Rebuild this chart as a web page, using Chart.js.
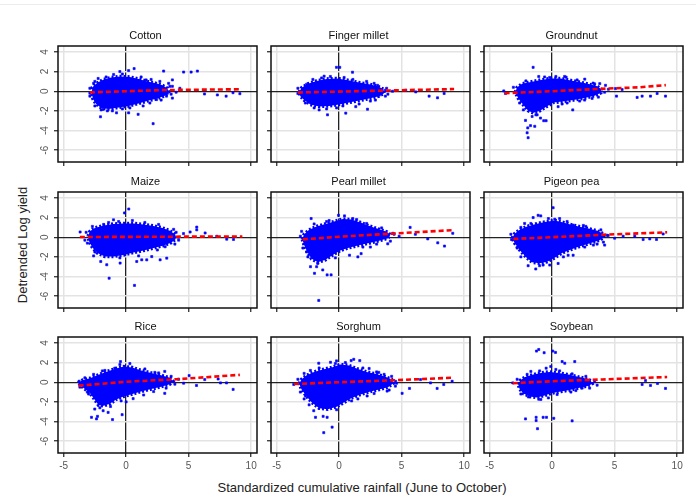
<!DOCTYPE html>
<html>
<head>
<meta charset="utf-8">
<script src="https://cdn.jsdelivr.net/npm/chart.js@4.4.1/dist/chart.umd.min.js"></script>
<style>
  body { margin: 0; background: #fff; width: 696px; height: 500px; position: relative; overflow: hidden;
         font-family: "Liberation Sans", Arial, sans-serif; }
  .panel { position: absolute; }
  #topline { position: absolute; left: 0; top: 4px; width: 696px; height: 1px; background: #ececec; }
  #ylab { position: absolute; left: 22px; top: 245px; transform: translate(-50%, -50%) rotate(-90deg);
          font-size: 13px; color: #222; white-space: nowrap; }
  #xlab { position: absolute; left: 362px; top: 487px; transform: translate(-50%, -50%);
          font-size: 13px; color: #222; white-space: nowrap; }
</style>
</head>
<body>
<div id="topline"></div>
<div id="ylab">Detrended Log yield</div>
<div id="xlab">Standardized cumulative rainfall (June to October)</div>
<script>
const crops = ['Cotton', 'Finger millet', 'Groundnut', 'Maize', 'Pearl millet', 'Pigeon pea', 'Rice', 'Sorghum', 'Soybean'];
const xTicks = [-5, 0, 5, 10];
const yTicks = [-6, -4, -2, 0, 2, 4];

// outline of the dense cloud of district-years, per crop
const coreOutlines = [
  [[-2.75,-0.2],[-2.7,0.4],[-2.3,0.85],[-1.8,1.2],[-1.2,1.4],[-0.5,1.5],[0.3,1.45],[1.0,1.25],[1.7,1.0],[2.4,0.8],[2.9,0.6],[3.3,0.3],[3.4,-0.1],[3.1,-0.45],[2.5,-0.75],[1.8,-0.95],[1.0,-1.25],[0.2,-1.5],[-0.6,-1.65],[-1.4,-1.8],[-2.0,-1.7],[-2.4,-1.3],[-2.65,-0.8],[-2.75,-0.2]],
  [[-3.2,-0.1],[-3.0,0.35],[-2.5,0.75],[-1.8,1.05],[-1.0,1.25],[-0.2,1.3],[0.6,1.15],[1.5,0.9],[2.4,0.7],[3.1,0.5],[3.55,0.2],[3.6,-0.2],[3.2,-0.5],[2.4,-0.75],[1.6,-0.95],[0.8,-1.15],[0,-1.35],[-0.8,-1.5],[-1.6,-1.55],[-2.3,-1.35],[-2.8,-0.9],[-3.1,-0.5],[-3.2,-0.1]],
  [[-2.95,-0.1],[-2.8,0.4],[-2.4,0.75],[-1.7,0.95],[-0.9,1.15],[-0.1,1.3],[0.7,1.3],[1.5,1.1],[2.3,0.9],[3.0,0.7],[3.6,0.5],[3.95,0.2],[3.9,-0.15],[3.4,-0.45],[2.6,-0.7],[1.7,-0.9],[0.8,-1.05],[0.1,-1.15],[-0.5,-1.6],[-1.0,-2.0],[-1.5,-2.2],[-1.9,-2.0],[-2.3,-1.4],[-2.7,-0.75],[-2.95,-0.1]],
  [[-3.05,0.1],[-2.9,0.6],[-2.5,0.95],[-1.8,1.2],[-1.0,1.35],[-0.2,1.4],[0.6,1.4],[1.4,1.3],[2.2,1.15],[2.9,0.95],[3.5,0.65],[3.95,0.25],[3.95,-0.2],[3.6,-0.55],[3.0,-0.85],[2.2,-1.1],[1.4,-1.35],[0.6,-1.55],[-0.2,-1.8],[-1.0,-1.95],[-1.7,-1.95],[-2.3,-1.6],[-2.7,-1.05],[-2.95,-0.45],[-3.05,0.1]],
  [[-2.95,-0.2],[-2.8,0.3],[-2.4,0.75],[-1.8,1.1],[-1.1,1.35],[-0.4,1.6],[0.3,1.85],[1.0,1.8],[1.7,1.5],[2.4,1.15],[3.1,0.85],[3.8,0.55],[4.1,0.25],[3.9,-0.1],[3.2,-0.35],[2.4,-0.6],[1.5,-0.85],[0.7,-1.1],[0.1,-1.35],[-0.5,-1.8],[-1.1,-2.3],[-1.7,-2.55],[-2.2,-2.2],[-2.55,-1.5],[-2.8,-0.8],[-2.95,-0.2]],
  [[-3.2,-0.1],[-3.0,0.35],[-2.6,0.75],[-2.0,1.1],[-1.3,1.35],[-0.6,1.55],[0.2,1.7],[0.9,1.5],[1.6,1.25],[2.3,1.05],[3.0,0.85],[3.6,0.65],[4.1,0.35],[4.15,0],[3.8,-0.3],[3.1,-0.6],[2.3,-0.9],[1.5,-1.25],[0.8,-1.6],[0.2,-2.1],[-0.4,-2.5],[-1.0,-2.65],[-1.6,-2.55],[-2.1,-2.0],[-2.6,-1.3],[-3.0,-0.6],[-3.2,-0.1]],
  [[-3.85,-0.05],[-3.5,0.2],[-2.9,0.4],[-2.2,0.75],[-1.5,1.1],[-0.8,1.4],[-0.2,1.6],[0.5,1.5],[1.2,1.2],[2.0,0.95],[2.8,0.7],[3.5,0.45],[3.75,0.1],[3.5,-0.2],[2.8,-0.45],[2.0,-0.7],[1.2,-0.95],[0.5,-1.2],[-0.2,-1.45],[-0.8,-1.75],[-1.3,-2.2],[-1.8,-2.4],[-2.2,-2.35],[-2.5,-1.8],[-2.9,-1.1],[-3.4,-0.6],[-3.85,-0.05]],
  [[-3.2,-0.15],[-3.0,0.3],[-2.6,0.7],[-2.0,1.05],[-1.3,1.3],[-0.6,1.5],[0.1,1.8],[0.8,1.7],[1.5,1.35],[2.2,1.05],[2.9,0.85],[3.6,0.6],[4.2,0.3],[4.35,-0.1],[3.9,-0.5],[3.2,-0.75],[2.5,-0.95],[1.7,-1.25],[1.0,-1.6],[0.4,-2.05],[-0.2,-2.5],[-0.9,-2.75],[-1.6,-2.65],[-2.2,-2.05],[-2.6,-1.45],[-3.0,-0.75],[-3.2,-0.15]],
  [[-2.7,-0.25],[-2.55,0.2],[-2.2,0.5],[-1.6,0.75],[-0.9,0.95],[-0.2,1.05],[0.5,0.95],[1.2,0.8],[1.9,0.6],[2.6,0.4],[3.1,0.15],[3.2,-0.15],[2.8,-0.4],[2.1,-0.6],[1.4,-0.8],[0.7,-0.95],[0,-1.1],[-0.6,-1.35],[-1.2,-1.55],[-1.8,-1.45],[-2.3,-1.15],[-2.6,-0.7],[-2.7,-0.25]]
];

// individual observations outside the dense cloud
const scatterPoints = [
  [[3.0,2.05],[4.6,1.95],[5.2,1.95],[5.7,2.05],[3.7,1.15],[2.16,-3.3],[-2.05,-2.6],[0.96,-2.35],[0.2,-2.2],[6.27,-0.28],[7.3,-0.38],[8.0,-0.5],[9.1,-0.25],[8.55,-0.15],[-2.9,-0.5],[-2.9,-0.2],[0.64,2.3],[-0.5,2.0],[0.2,2.1],[-2.24,1.3],[1.6,1.15],[-1.84,-1.85],[-1.3,-1.5],[-0.77,-2.2],[1.36,-1.5],[2.43,-0.85],[3.23,-0.5],[3.7,-0.7],[4.3,0.3],[3.7,0.5],[3.4,0.8],[3.3,-0.2],[2.7,1.0],[-1.0,1.7],[-0.3,1.75],[-2.0,-1.9],[-1.5,-2.0],[0.3,-1.7],[4.0,-0.1],[-2.6,0.8],
   [-2.9,0.3],[-2.5,1.0],[-1.6,1.45],[1.2,1.45],[2.0,1.2],[3.5,0.5],[3.6,-0.3],[2.8,-0.9],[1.9,-1.2],[-0.3,-1.8],[-1.1,-2.0],[-2.5,-1.5]],
  [[-0.21,2.43],[0.05,2.43],[1.07,1.93],[-1.2,1.53],[-0.93,-2.4],[0.53,-2.23],[1.33,-1.57],[2.27,-1.83],[-1.6,-1.9],[-2.0,-1.7],[3.07,0.6],[3.2,-0.4],[-3.3,-0.23],[7.2,-0.5],[7.87,-0.67],[8.4,-0.23],[5.33,0.1],[6.13,-0.07],[4.27,0.0],[3.7,0.1],[-0.7,1.5],[0.4,1.4],[2.2,1.0],[1.6,-1.3],[-0.2,-1.7],[-2.6,0.7],[3.9,-0.3],[2.5,-1.0],
   [-3.3,0.3],[-2.1,1.2],[-1.4,1.35],[1.1,1.2],[2.8,0.8],[3.8,0.3],[3.7,-0.5],[2.9,-0.9],[0.3,-1.5],[-1.0,-1.8],[-2.7,-1.2]],
  [[-1.52,2.43],[-1.07,1.5],[1.12,1.43],[2.61,1.23],[3.28,0.83],[3.81,0.77],[4.27,0.6],[5.07,0.27],[5.6,0.17],[5.15,-0.5],[6.8,-0.63],[7.2,-0.5],[7.87,-0.5],[8.4,-0.23],[9.07,-0.5],[3.2,-0.73],[1.65,-1.9],[0.48,-1.57],[-0.48,-3.0],[-0.67,-3.0],[-2.13,-2.97],[-1.73,-3.5],[-1.39,-3.57],[-1.95,-3.73],[-2.0,-4.23],[-1.92,-4.73],[-1.6,-2.57],[-1.2,-2.4],[-0.93,-2.73],[-3.87,0.03],[-3.73,-0.23],[-0.2,1.4],[0.3,1.5],[4.5,0.2],[-2.3,-1.9],[0.8,-1.3],[2.6,-0.9],
   [-3.1,0.4],[-2.1,1.05],[-0.6,1.45],[1.0,1.5],[2.0,1.15],[3.4,0.75],[4.2,-0.1],[3.7,-0.6],[2.2,-1.0],[1.2,-1.2],[-2.6,-1.2],[-1.3,-2.4]],
  [[-0.13,2.47],[0.21,2.87],[-1.01,1.77],[-3.68,0.53],[-1.55,-2.8],[-0.48,-2.63],[-2.03,-2.47],[-1.36,-4.17],[0.67,-4.9],[0.85,-2.47],[1.25,-2.3],[1.65,-2.3],[2.05,-1.97],[2.72,-2.3],[3.25,-2.13],[3.12,-0.97],[4.59,0.37],[5.12,0.53],[5.65,1.03],[5.65,0.75],[6.32,0.43],[8.05,-0.2],[8.59,-0.23],[7.25,0.1],[4.2,-0.3],[4.0,0.5],[-3.3,-0.3],[0.5,1.7],[1.5,1.5],[-1.8,1.3],[-2.5,-1.5],[1.0,-1.9],
   [-3.2,0.5],[-2.7,1.1],[-1.4,1.5],[-0.6,1.6],[2.6,1.3],[3.8,0.8],[4.2,0.0],[3.9,-0.7],[2.5,-1.3],[-0.5,-2.1],[-2.6,-1.9],[-3.1,-0.6]],
  [[-2.24,1.9],[-0.05,2.23],[0.43,2.17],[1.09,1.9],[1.76,1.33],[2.43,1.0],[2.77,0.67],[5.68,1.0],[7.09,-0.17],[7.89,-0.57],[8.43,-0.9],[6.1,0.3],[9.09,0.4],[3.89,-0.67],[1.76,-1.67],[0.83,-1.83],[1.5,-2.0],[-1.97,-3.67],[-1.31,-3.33],[-0.96,-3.83],[-0.64,-3.83],[-2.29,-3.0],[-1.8,-3.0],[-1.63,-6.43],[-1.71,-2.67],[4.4,0.3],[4.8,0.1],[-3.1,0.1],[-2.6,-1.5],[-0.3,-2.1],[2.5,-1.0],[-1.0,1.6],
   [-3.0,0.6],[-2.0,1.35],[-0.8,1.7],[1.4,1.8],[2.2,1.4],[3.4,0.95],[4.3,0.4],[4.1,-0.4],[3.0,-0.7],[1.9,-1.0],[-2.5,-2.0],[-2.9,-1.1]],
  [[0.08,3.0],[-1.52,2.0],[-1.12,2.23],[-0.91,2.17],[0.21,1.83],[1.68,1.23],[2.7,1.1],[3.28,0.5],[4.48,0.17],[5.68,0.1],[6.61,0.1],[7.28,-0.23],[7.81,-0.17],[8.35,-0.23],[8.88,0.33],[-1.31,-3.23],[-0.72,-2.83],[-0.19,-2.83],[-1.92,-2.9],[0.48,-2.67],[1.28,-1.83],[1.68,-1.83],[2.61,-1.0],[4.2,-0.8],[-3.25,-0.23],[-2.5,-2.0],[-1.0,-2.9],[0.6,1.9],[-2.2,1.4],[3.6,-0.7],[5.0,-0.1],
   [-3.3,0.3],[-2.5,1.0],[-1.7,1.4],[-0.3,1.9],[1.2,1.6],[2.5,1.2],[3.9,0.75],[4.4,0.2],[4.1,-0.5],[3.3,-0.8],[0.9,-2.0],[-2.8,-1.1]],
  [[-0.45,2.1],[-0.5,1.8],[-0.91,1.43],[3.09,1.1],[5.04,0.67],[6.29,0.27],[5.63,-0.33],[7.55,-0.07],[8.03,-0.07],[8.56,-0.73],[7.36,0.33],[3.09,-1.13],[0.56,-1.67],[0,-2.0],[-2.77,-3.57],[-2.37,-3.73],[-2.29,-3.47],[-1.44,-3.07],[-1.84,-2.9],[-1.09,-3.8],[-0.32,-3.3],[-2.51,-2.73],[-2.1,-2.6],[-1.25,-2.47],[-3.76,0.1],[-3.44,-0.23],[4.2,0.3],[4.6,-0.1],[0.3,1.9],[-1.7,1.2],[2.3,1.0],[-3.0,-1.2],[1.4,-1.3],
   [-3.3,0.45],[-2.6,0.8],[-1.9,1.15],[1.5,1.35],[2.6,0.95],[3.6,0.6],[3.9,-0.2],[3.2,-0.6],[2.2,-0.95],[-0.4,-1.9],[-3.1,-1.0],[-3.7,-0.5]],
  [[-1.63,1.93],[-0.69,2.03],[-0.21,2.17],[0.96,2.2],[1.17,2.33],[1.65,2.2],[3.17,1.0],[3.6,0.8],[4.51,0.1],[5.63,-0.63],[5.04,-1.13],[7.31,-0.07],[7.84,-0.63],[8.37,-0.23],[9.04,0.1],[6.51,0.27],[3.84,-0.9],[2.24,-1.4],[-2.03,-2.9],[-1.89,-3.57],[-1.28,-3.47],[-0.96,-3.57],[-0.56,-4.57],[-1.23,-5.13],[-2.69,-1.4],[-2.8,-1.7],[-3.63,-0.23],[-2.3,1.2],[0.5,2.0],[2.4,1.4],[1.0,-1.9],[-0.2,-2.8],[4.5,-0.4],
   [-3.3,0.3],[-2.8,0.9],[-1.6,1.45],[-0.3,1.9],[1.9,1.45],[3.0,1.05],[4.2,0.6],[4.6,-0.1],[4.0,-0.8],[2.8,-1.15],[1.5,-1.7],[-2.4,-2.3],[-3.1,-1.0]],
  [[-1.25,3.17],[-1.07,3.33],[-0.64,3.0],[0.05,3.17],[0.27,3.03],[-0.11,1.6],[0.8,2.1],[1.01,1.93],[1.81,2.1],[-0.48,1.43],[-2.13,-3.73],[-1.28,-3.57],[-1.28,-3.9],[-0.72,-3.57],[-0.45,-3.57],[-1.17,-4.73],[0.13,-3.67],[1.6,-3.93],[-1.07,-1.73],[-1.9,-1.5],[3.6,-0.3],[7.2,-0.23],[7.87,-0.33],[8.43,-0.13],[9.07,-0.63],[7.47,0.17],[-3.15,-0.07],[2.4,-0.6],[-1.7,1.1],[0.3,1.3],[1.5,-1.0],[-0.3,-1.6],
   [-2.8,0.3],[-2.0,0.8],[-1.0,1.15],[0.6,1.15],[1.6,0.85],[2.7,0.6],[3.4,0.05],[3.0,-0.6],[1.9,-0.85],[0.4,-1.25],[-0.9,-1.75],[-2.5,-1.2]]
];

// fitted trend of yield on rainfall
const trendLines = [
  [[-2.9,-0.12],[0,0.0],[3,0.12],[9.2,0.2]],
  [[-3.3,-0.13],[9.2,0.22]],
  [[-3.8,-0.2],[0,0.0],[4,0.25],[7,0.4],[9.1,0.62]],
  [[-3.7,0.02],[9.3,0.08]],
  [[-2.9,-0.22],[0,0.05],[4,0.35],[9.1,0.72]],
  [[-3.1,-0.17],[0,0.0],[4,0.25],[9.2,0.5]],
  [[-3.8,-0.35],[0,0.05],[4,0.3],[9.1,0.75]],
  [[-3.6,-0.18],[0,0.0],[4,0.18],[9.0,0.45]],
  [[-3.15,-0.1],[0,0.1],[4,0.28],[9.2,0.53]]
];

const colLeft = [58, 271, 484];
const rowTop = [46, 192, 337];
const plotW = 199, plotH = 116;
const side = 24, bottom = 20;
const fontFamily = '"Liberation Sans", Arial, sans-serif';

// box around each panel
const frame = {
  id: 'frame',
  afterDraw(chart) {
    const a = chart.chartArea, c = chart.ctx;
    c.save();
    c.strokeStyle = '#111';
    c.lineWidth = 1.5;
    c.strokeRect(a.left, a.top, a.right - a.left, a.bottom - a.top);
    c.restore();
  }
};

const toXY = pts => pts.map(p => ({ x: p[0], y: p[1] }));
const isZero = c => c.tick && c.tick.value === 0;

crops.forEach(function(name, i) {
  const col = i % 3, row = Math.floor(i / 3);
  const w = side * 2 + plotW, h = side + plotH + bottom;
  const cv = document.createElement('canvas');
  cv.className = 'panel';
  cv.width = w; cv.height = h;
  cv.style.width = w + 'px'; cv.style.height = h + 'px';
  cv.style.left = (colLeft[col] - side) + 'px';
  cv.style.top = (rowTop[row] - side) + 'px';
  document.body.appendChild(cv);

  new Chart(cv, {
    type: 'scatter',
    data: {
      datasets: [{
        type: 'line',
        data: toXY(trendLines[i]),
        borderColor: '#ff0000',
        borderWidth: 2.6,
        borderDash: [5, 3],
        pointRadius: 0,
        fill: false
      }, {
        data: toXY(scatterPoints[i]),
        backgroundColor: '#0000ff',
        borderColor: '#0000ff',
        pointStyle: 'rect',
        pointRadius: 1.5,
        borderWidth: 0.6
      }, {
        // dense cloud: filled outline with a broken edge
        type: 'line',
        data: toXY(coreOutlines[i]),
        borderColor: '#0000ff',
        backgroundColor: '#0000ff',
        borderWidth: 3.5,
        borderDash: [2, 2],
        pointRadius: 0,
        fill: 'shape'
      }]
    },
    options: {
      responsive: false,
      animation: false,
      events: [],
      layout: { padding: { left: 0, right: side, top: 8, bottom: 0 } },
      plugins: {
        legend: { display: false },
        tooltip: { enabled: false },
        title: {
          display: true,
          text: name,
          color: '#111',
          font: { family: fontFamily, size: 11, weight: 'normal', lineHeight: 1 },
          padding: { top: 0, bottom: 5 }
        }
      },
      scales: {
        x: {
          type: 'linear',
          min: -5.45,
          max: 10.47,
          afterBuildTicks: s => { s.ticks = xTicks.map(v => ({ value: v })); },
          afterFit: s => { s.height = bottom; },
          border: { display: false },
          grid: {
            color: c => isZero(c) ? '#222' : '#e3e3e3',
            lineWidth: c => isZero(c) ? 1.3 : 1.5,
            tickColor: '#222',
            tickLength: 4,
            tickWidth: 1.2
          },
          ticks: { display: row === 2, color: '#555', padding: 3, maxRotation: 0,
                   font: { family: fontFamily, size: 10 } }
        },
        y: {
          type: 'linear',
          min: -7.2,
          max: 4.6,
          afterBuildTicks: s => { s.ticks = yTicks.map(v => ({ value: v })); },
          afterFit: s => { s.width = side; },
          border: { display: false },
          grid: {
            color: c => isZero(c) ? '#222' : '#e3e3e3',
            lineWidth: c => isZero(c) ? 1.3 : 1.5,
            tickColor: '#222',
            tickLength: 4,
            tickWidth: 1.2
          },
          ticks: { display: col === 0, color: '#555', padding: 4, minRotation: 90, maxRotation: 90,
                   crossAlign: 'center', font: { family: fontFamily, size: 10 } }
        }
      }
    },
    plugins: [frame]
  });
});
</script>
</body>
</html>
